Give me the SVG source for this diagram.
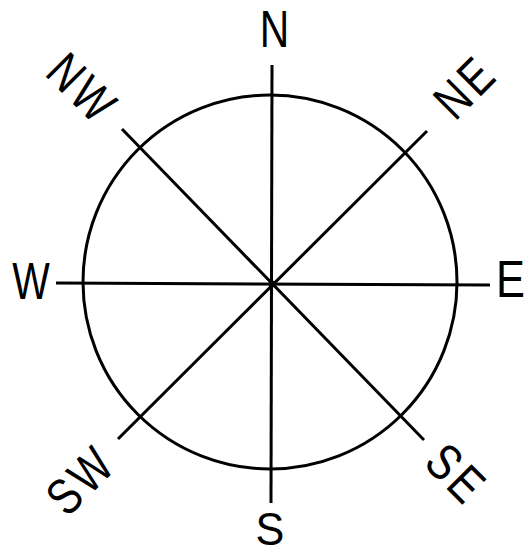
<svg xmlns="http://www.w3.org/2000/svg" width="531" height="555" viewBox="0 0 531 555">
<style>
.ln{stroke:#000;stroke-width:3;fill:none;stroke-linecap:butt}
.lbl{font-family:"Liberation Sans",Arial,sans-serif;font-size:51px;fill:#000;text-anchor:middle}
.dg{letter-spacing:5px}
</style>
<rect width="531" height="555" fill="#fff"/>
<g id="circle"><circle class="ln" cx="270" cy="282" r="187" stroke-width="2.6"/></g>
<g id="connectors">
<line class="ln" x1="272" y1="65" x2="271" y2="503"/>
<line class="ln" x1="56" y1="283" x2="490" y2="285"/>
<line class="ln" x1="122" y1="129" x2="424" y2="440"/>
<line class="ln" x1="427" y1="131" x2="118" y2="439"/>
<circle cx="272" cy="284" r="3.5" fill="#000"/>
</g>
<g id="N"><text class="lbl" transform="translate(274.5,47) scale(0.8,1)">N</text></g>
<g id="S"><text class="lbl" style="font-size:48px" transform="translate(270,545) scale(0.9,0.95)">S</text></g>
<g id="W"><text class="lbl" transform="translate(31,299) scale(0.78,1)">W</text></g>
<g id="E"><text class="lbl" transform="translate(510.5,297) scale(0.85,1)">E</text></g>
<g id="NW"><text class="lbl dg" transform="translate(83,88.5) rotate(45) scale(0.8,1)" y="18">NW</text></g>
<g id="NE"><text class="lbl dg" transform="translate(465,86.5) rotate(-45) scale(0.8,1)" y="18">NE</text></g>
<g id="SW"><text class="lbl dg" transform="translate(80.5,479.5) rotate(-45) scale(0.8,1)" y="18">SW</text></g>
<g id="SE"><text class="lbl dg" transform="translate(457,474) rotate(45) scale(0.8,1)" y="18">SE</text></g>
</svg>
